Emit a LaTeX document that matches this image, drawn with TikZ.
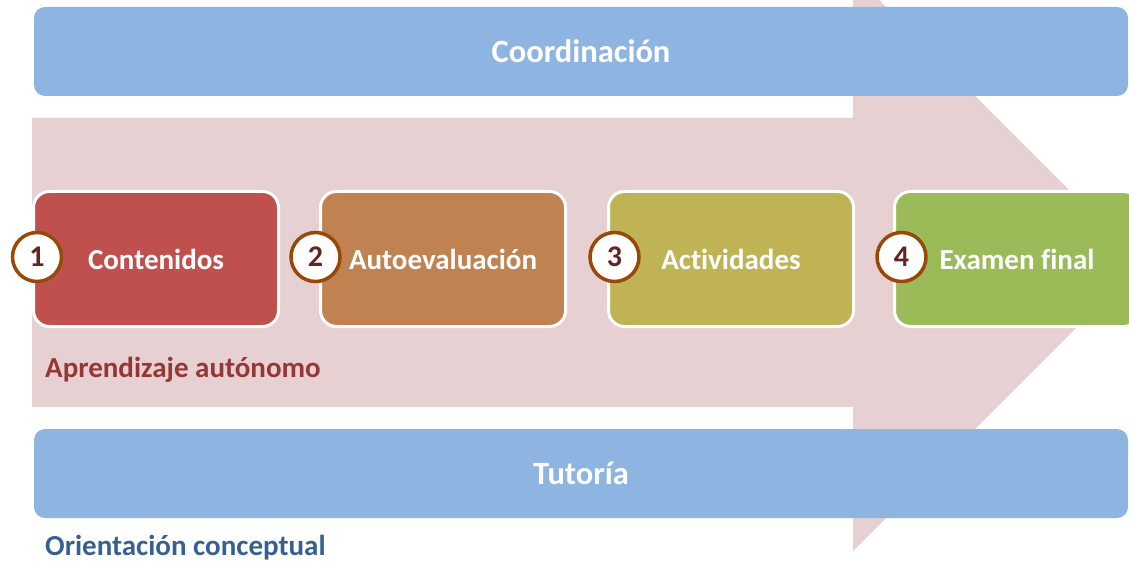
\documentclass[tikz,border=0pt]{standalone}
\usepackage{fontspec}
\setmainfont{Carlito}[Ligatures=NoCommon]
\newlength{\du}
\setlength{\du}{1pt}
\definecolor{arrowpink}{RGB}{231,208,209}
\definecolor{barblue}{RGB}{142,180,226}
\definecolor{stepred}{RGB}{192,80,77}
\definecolor{stepbrown}{RGB}{192,130,80}
\definecolor{stepolive}{RGB}{191,179,86}
\definecolor{stepgreen}{RGB}{155,187,89}
\definecolor{ringbrown}{RGB}{152,72,7}
\definecolor{numred}{RGB}{99,37,35}
\definecolor{labelred}{RGB}{149,55,53}
\definecolor{labelblue}{RGB}{54,96,146}
\tikzset{
  bar/.style={fill=barblue, rounded corners=11\du, minimum width=1094\du,
    minimum height=89\du, inner sep=0pt, text=white,
    font=\fontsize{32.5}{38}\selectfont\bfseries},
  stepbox/.style={fill=#1, draw=white, line width=3\du, rounded corners=16\du,
    minimum width=245\du, minimum height=135\du, inner sep=0pt, text=white,
    font=\fontsize{29}{34}\selectfont\bfseries},
  stepnum/.style={circle, fill=white, draw=ringbrown, line width=3.5\du,
    minimum size=49\du, inner sep=0pt, text=numred,
    font=\fontsize{30}{34}\selectfont\bfseries},
  sidelabel/.style={anchor=west, inner sep=0pt,
    font=\fontsize{29}{34}\selectfont\bfseries}
}
\begin{document}
\begin{tikzpicture}
\pgftransformxscale{1.000000}
\pgftransformyscale{-1.000000}
\useasboundingbox (0\du,0\du) rectangle (1129\du,561\du);
\clip (0\du,0\du) rectangle (1129\du,561\du);
% big arrow behind everything
\fill[arrowpink] (32\du,118\du)--(853\du,118\du)--(853\du,-26\du)--(1141.5\du,262.5\du)
  --(853\du,551\du)--(853\du,407\du)--(32\du,407\du)--cycle;
% top and bottom bars
\node[bar] (coord) at (581\du,51.5\du) {Coordinación};
\node[bar] (tutor) at (581\du,473.5\du) {Tutoría};
% steps
\node[stepbox=stepred] (cont) at (156\du,259\du) {Contenidos};
\node[stepbox=stepbrown] (auto) at (443\du,259\du) {Autoevaluación};
\node[stepbox=stepolive] (activ) at (731\du,259\du) {Actividades};
\node[stepbox=stepgreen] (exam) at (1017\du,259\du) {Examen final};
\node[stepnum] (n1) at (37\du,257\du) {1};
\node[stepnum] (n2) at (315.5\du,257\du) {2};
\node[stepnum] (n3) at (614.5\du,257\du) {3};
\node[stepnum] (n4) at (901.5\du,257\du) {4};
% labels
\node[sidelabel, text=labelred] (aprend) at (45\du,370\du) {Aprendizaje autónomo};
\node[sidelabel, text=labelblue] (orient) at (45\du,548\du) {Orientación conceptual};
\end{tikzpicture}
\end{document}
